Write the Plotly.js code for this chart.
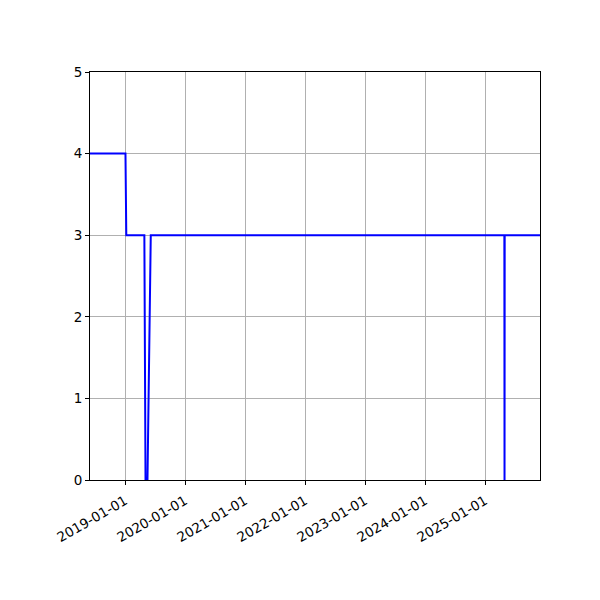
<!DOCTYPE html>
<html>
<head>
<meta charset="utf-8">
<script src="https://cdn.plot.ly/plotly-3.0.1.min.js"></script>
<style>html,body{margin:0;padding:0;background:#fff;}#chart{width:600px;height:600px;}</style>
</head>
<body>
<div id="chart"></div>
<script>
const dates = ["2018-06-01", "2019-01-03", "2019-01-08", "2019-04-28", "2019-05-05", "2019-05-17", "2019-06-06", "2025-04-28", "2025-04-29", "2025-04-30", "2025-12-01"];
const values = [4, 4, 3, 3, 0, 0, 3, 3, 0, 3, 3];
const xTickVals = ["2019-01-01", "2020-01-01", "2021-01-01", "2022-01-01", "2023-01-01", "2024-01-01", "2025-01-01"];
const yTickVals = [0, 1, 2, 3, 4, 5];

const trace = {
  x: dates,
  y: values,
  type: "scatter",
  mode: "lines",
  line: {color: "#0000ff", width: 2},
  hoverinfo: "skip"
};

const layout = {
  width: 600,
  height: 600,
  margin: {l: 90, r: 60, t: 72, b: 120},
  paper_bgcolor: "#ffffff",
  plot_bgcolor: "#ffffff",
  showlegend: false,
  font: {family: "DejaVu Sans", size: 13.5, color: "#000"},
  xaxis: {
    type: "date",
    range: ["2018-06-01", "2025-12-01"],
    tickvals: xTickVals,
    ticktext: xTickVals,
    tickangle: -30,
    ticklabelstandoff: 3,
    showgrid: true,
    gridcolor: "#b0b0b0",
    gridwidth: 1,
    showline: true,
    linecolor: "#000",
    linewidth: 1,
    mirror: true,
    ticks: "outside",
    ticklen: 4,
    tickcolor: "#000",
    zeroline: false,
    tickfont: {family: "DejaVu Sans", size: 13.5, color: "#000"}
  },
  yaxis: {
    range: [0, 5],
    tickvals: yTickVals,
    ticktext: yTickVals.map(String),
    showgrid: true,
    gridcolor: "#b0b0b0",
    gridwidth: 1,
    showline: true,
    linecolor: "#000",
    linewidth: 1,
    mirror: true,
    ticks: "outside",
    ticklen: 4,
    tickcolor: "#000",
    zeroline: false,
    tickfont: {family: "DejaVu Sans", size: 13.5, color: "#000"}
  }
};

Plotly.newPlot("chart", [trace], layout, {displayModeBar: false, staticPlot: true});
</script>
</body>
</html>
